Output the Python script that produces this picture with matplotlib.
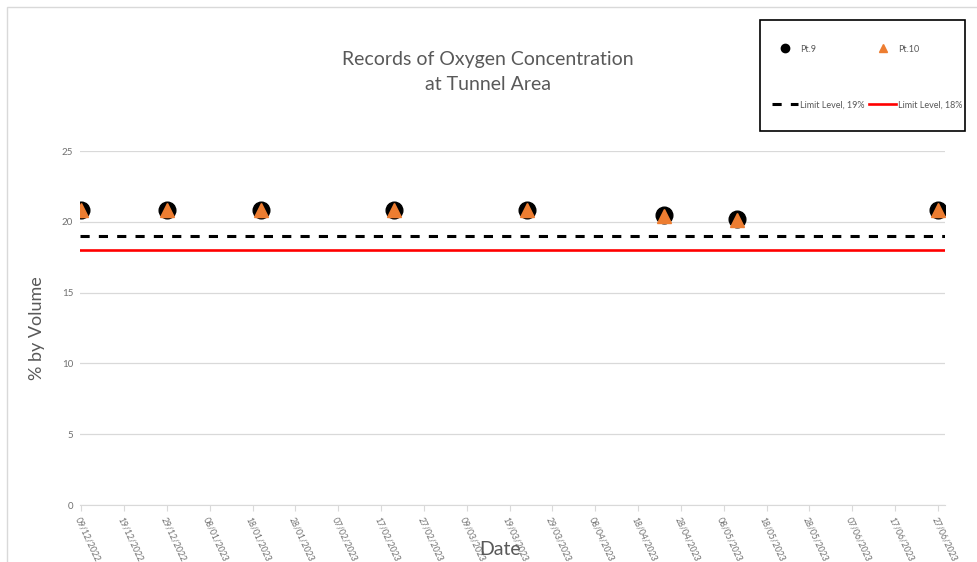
import numpy as np
import matplotlib
matplotlib.use('Agg')
import matplotlib.pyplot as plt
import matplotlib.dates as mdates
from matplotlib.patches import Rectangle
from matplotlib.lines import Line2D
import datetime as dt

plt.rcParams['font.family'] = ['Lato', 'DejaVu Sans']

# 数据
dates = ["09/12/2022", "29/12/2022", "20/01/2023", "20/02/2023",
         "23/03/2023", "24/04/2023", "11/05/2023", "27/06/2023"]
pt9 = [20.8, 20.8, 20.8, 20.8, 20.8, 20.5, 20.2, 20.8]
pt10 = [20.8, 20.8, 20.8, 20.8, 20.8, 20.4, 20.1, 20.8]
limit_19 = 19
limit_18 = 18
tick_start = "09/12/2022"
tick_end = "27/06/2023"

x = [dt.datetime.strptime(d, "%d/%m/%Y") for d in dates]
t0 = dt.datetime.strptime(tick_start, "%d/%m/%Y")
t1 = dt.datetime.strptime(tick_end, "%d/%m/%Y")
ticks = [t0 + dt.timedelta(days=10 * i) for i in range(int((t1 - t0).days / 10) + 1)]

fig = plt.figure(figsize=(9.77, 5.62), dpi=100)
ax = fig.add_axes([0.0819, 0.1014, 0.967 - 0.0819, 0.7313 - 0.1014])

xl = (t0 - dt.timedelta(days=0.3), t1 + dt.timedelta(days=1.6))
ax.plot(xl, [limit_19, limit_19], color='black', ls=(0, (3, 3)), lw=2.2, zorder=2)
ax.plot(xl, [limit_18, limit_18], color='#ff0000', lw=1.9, zorder=2)
ax.plot(x, pt9, 'o', color='black', ms=12, zorder=3)
ax.plot(x, pt10, '^', color='#ed7d31', ms=9.5, zorder=4)

ax.set_xlim(xl)
ax.set_ylim(0, 25)
ax.set_yticks(range(0, 26, 5))
ax.set_xticks(ticks)
ax.xaxis.set_major_formatter(mdates.DateFormatter("%d/%m/%Y"))
plt.setp(ax.get_xticklabels(), rotation=-65, ha='left', rotation_mode='anchor')
ax.tick_params(axis='x', labelsize=6.2, colors='#707070', length=4, color='#d9d9d9')
ax.tick_params(axis='y', labelsize=7, colors='#707070', length=0, pad=5)
ax.grid(axis='y', color='#d9d9d9', lw=0.9)
ax.set_axisbelow(True)
for s in ['top', 'right', 'left']:
    ax.spines[s].set_visible(False)
ax.spines['bottom'].set_color('#d9d9d9')

ax.set_ylabel("% by Volume", fontsize=13, color='#595959')
ax.yaxis.set_label_coords(-0.04, 0.5)
fig.text(0.512, 0.022, "Date", fontsize=14, color='#595959', ha='center', va='center')
fig.text(0.499, 0.872, "Records of Oxygen Concentration\nat Tunnel Area", fontsize=14,
         color='#595959', ha='center', va='center', linespacing=1.6)

# 外框
fig.patches.append(Rectangle((7 / 977, -0.1), 1.2, 1 - 7 / 562 + 0.1, transform=fig.transFigure,
                             fill=False, ec='#d9d9d9', lw=1))
# 图例框
fig.patches.append(Rectangle((760 / 977, 1 - 131 / 562), 205 / 977, 111 / 562,
                             transform=fig.transFigure, fill=False, ec='black', lw=1.2))

handles = [Line2D([], [], marker='o', color='black', ls='none', ms=6),
           Line2D([], [], color='black', ls=(0, (3, 3)), lw=2.2),
           Line2D([], [], marker='^', color='#ed7d31', ls='none', ms=6),
           Line2D([], [], color='#ff0000', lw=1.9)]
labels = ["Pt.9", "Limit Level, 19%", "Pt.10", "Limit Level, 18%"]
leg = fig.legend(handles, labels, ncol=2, loc='upper left',
                 bbox_to_anchor=(767 / 977, 1 - 40 / 562), fontsize=6.5,
                 frameon=False, borderpad=0, labelspacing=5.2, handlelength=2.9,
                 handletextpad=0.3, columnspacing=0.5, labelcolor='#595959')

plt.savefig("out.png", dpi=100)
